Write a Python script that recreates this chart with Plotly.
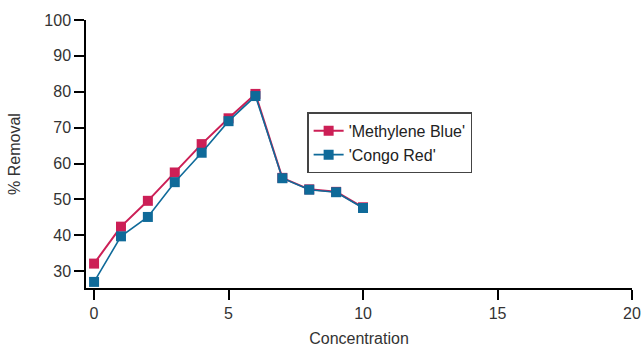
import plotly.graph_objects as go

concentration = [0, 1, 2, 3, 4, 5, 6, 7, 8, 9, 10]
methylene_blue = [32.1, 42.4, 49.6, 57.5, 65.4, 72.6, 79.4, 56.0, 52.8, 52.1, 47.8]
congo_red = [27.0, 39.7, 45.1, 54.8, 63.0, 71.8, 78.8, 55.9, 52.7, 52.0, 47.6]

x_ticks = [0, 5, 10, 15, 20]
y_ticks = [30, 40, 50, 60, 70, 80, 90, 100]

family = "Liberation Sans, Arial, sans-serif"
font = dict(family=family, size=16, color="#333333")

fig = go.Figure()
fig.add_trace(go.Scatter(
    x=concentration, y=methylene_blue, mode="lines+markers",
    name="'Methylene Blue'",
    line=dict(color="#cc1f56", width=2),
    marker=dict(symbol="square", size=10, color="#cc1f56"),
))
fig.add_trace(go.Scatter(
    x=concentration, y=congo_red, mode="lines+markers",
    name="'Congo Red'",
    line=dict(color="#0f6a99", width=1.6),
    marker=dict(symbol="square", size=10, color="#0f6a99"),
))

fig.update_layout(
    width=643, height=347,
    margin=dict(l=86, r=11, t=20, b=59),
    paper_bgcolor="white", plot_bgcolor="white",
    font=font,
    showlegend=True,
    legend=dict(
        x=0.405, y=0.655, xanchor="left", yanchor="top",
        bgcolor="white", bordercolor="#444444", borderwidth=1.5,
        font=dict(family=family, size=16, color="#222222"),
        tracegroupgap=0, itemwidth=30,
    ),
    xaxis=dict(
        range=[-0.3, 20], tickvals=x_ticks, showgrid=False, zeroline=False,
        showline=True, linecolor="black", linewidth=1.5, automargin=False,
        ticks="outside", ticklen=10, tickwidth=1.5, tickcolor="black",
        tickfont=dict(size=16),
        title=dict(text="Concentration", standoff=12, font=dict(size=16)),
    ),
    yaxis=dict(
        range=[25.3, 100], tickvals=y_ticks, showgrid=False, zeroline=False,
        showline=True, linecolor="black", linewidth=1.5, automargin=False,
        ticks="outside", ticklen=10, tickwidth=1.5, tickcolor="black",
        tickfont=dict(size=16),
        title=dict(text="% Removal", standoff=20, font=dict(size=16)),
    ),
)

fig.write_html("out.html")
